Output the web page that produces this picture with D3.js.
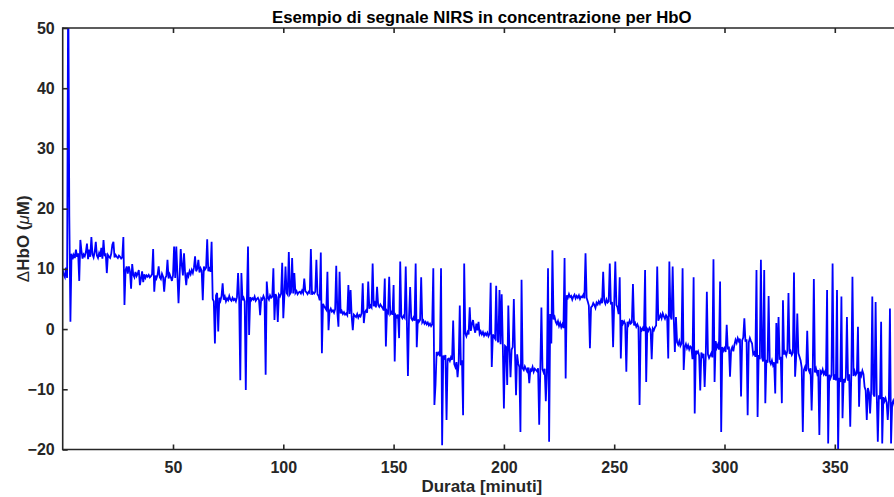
<!DOCTYPE html>
<html>
<head>
<meta charset="utf-8">
<script src="https://cdn.jsdelivr.net/npm/d3@7"></script>
<style>
  html, body { margin: 0; padding: 0; background: #ffffff; overflow: hidden; }
  svg { display: block; }
  text { font-family: "Liberation Sans", Arial, Helvetica, sans-serif; }
</style>
</head>
<body>
<svg id="chart" width="894" height="497"></svg>
<script>
// ---- data (ΔHbO in µM, one sample every 0.5 min) ----
const chartTitle = "Esempio di segnale NIRS in concentrazione per HbO";
const xLabel = "Durata [minuti]";
const sampleStep = 0.5; // minutes between samples
const xTicks = [50, 100, 150, 200, 250, 300, 350];
const yTicks = [-20, -10, 0, 10, 20, 30, 40, 50];

const hboPart1 = [ // 0 - 99.5 min
  9.8, 9.0, 8.6, 10.2, 8.5, 60, 18.7, 1.2, 12.5, 11.6,
  12.3, 11.8, 13.2, 12.0, 12.6, 8.0, 14.8, 13.0, 11.7, 12.4,
  12.1, 12.8, 14.2, 11.6, 13.2, 12.0, 15.3, 12.4, 11.9, 12.8,
  14.5, 12.2, 11.8, 12.6, 12.0, 13.5, 11.7, 14.8, 12.1, 12.6,
  9.3, 12.3, 12.0, 11.8, 12.5, 14.0, 14.5, 11.9, 12.3, 12.0,
  11.8, 12.2, 12.0, 11.7, 11.9, 15.3, 4.0, 9.8, 10.4, 9.2,
  10.4, 9.6, 6.7, 10.8, 9.0, 8.6, 9.5, 8.8, 9.2, 9.8,
  7.3, 8.4, 9.6, 7.8, 9.1, 8.5, 8.9, 8.7, 9.0, 8.6,
  8.8, 9.1, 13.3, 6.2, 8.9, 8.4, 9.0, 10.4, 8.6, 8.3,
  9.2, 8.7, 6.2, 8.5, 8.8, 11.5, 8.4, 9.1, 8.6, 8.0,
  8.9, 13.7, 8.5, 13.7, 9.0, 4.3, 8.8, 13.3, 10.6, 8.9,
  12.6, 9.2, 7.3, 9.4, 8.8, 9.6, 9.1, 9.8, 9.3, 10.2,
  12.1, 9.6, 10.0, 11.5, 9.4, 10.1, 9.7, 4.8, 10.4, 9.9,
  10.2, 14.9, 9.6, 10.3, 9.5, 14.5, 5.0, 4.6, -2.4, 5.6,
  6.0, -0.4, 5.2, 4.7, 5.5, 7.6, 4.9, 5.4, 4.6, 5.1,
  4.8, 5.5, 4.9, 4.7, 5.2, 4.8, 5.0, 4.6, 5.3, 9.3,
  4.9, -8.5, 9.3, 4.8, 5.2, 4.6, -10.1, 5.0, 13.7, -1.0,
  5.3, 4.8, 5.1, 4.9, 5.4, 4.7, 5.0, 5.2, 4.8, 2.3,
  5.1, 4.9, 5.5, 5.0, -7.6, 7.9, 5.3, 4.9, 5.6, 5.2,
  5.4, 10.1, 1.5, 5.8, 5.3, 1.2, 5.7, 5.4, 5.9, 11.0
];
const hboPart2 = [ // 100 - 199.5 min
  1.8, 5.6, 10.4, 6.0, 5.7, 12.8, 5.8, 6.1, 11.8, 5.9,
  9.3, 6.0, 6.3, 5.8, 6.1, 6.2, 5.9, 6.4, 6.0, 8.4,
  6.3, 6.1, 5.8, 6.2, 6.0, 13.3, 5.7, 6.1, 5.9, 6.2,
  11.5, 5.8, 5.5, 4.8, 12.7, -4.0, 4.2, 3.8, 3.5, 3.2,
  9.5, -0.2, 3.0, 3.4, 2.9, 3.1, 2.7, 3.3, 10.5, 2.8,
  0.4, 9.5, 2.6, 3.0, 2.5, 2.8, 2.4, 2.6, 2.3, 7.3,
  2.5, 6.5, 2.1, -0.2, 2.4, 2.2, 2.0, 2.5, 1.9, 2.3,
  2.1, 2.6, 7.6, 1.0, 2.8, 3.1, 2.7, 7.9, 3.4, 3.9,
  3.6, 10.9, 3.8, 4.3, 3.6, 7.0, 4.0, 3.7, 4.1, 3.8,
  3.5, 3.1, 8.4, -2.9, 3.0, 2.7, 8.7, 2.5, 2.8, 2.4,
  7.3, -5.4, 2.3, 2.0, 2.4, -1.5, 11.2, 2.1, 1.8, 2.2,
  1.9, 10.4, 1.6, -7.8, 2.0, 7.0, 1.8, 1.5, 1.9, 1.4,
  10.9, -3.0, 1.6, 1.2, 1.5, 8.6, 1.1, 1.4, 0.9, 1.2,
  0.8, 1.1, 0.6, 0.9, 0.5, 0.8, 10.1, -12.6, -9.3, -3.8,
  -4.2, -3.9, -4.5, 10.1, -19.3, -4.4, -4.8, -4.3, -15.1, -5.0,
  -4.9, -5.3, -4.7, -5.1, 1.4, -5.8, -6.3, -5.5, -8.0, -5.6,
  3.9, -6.0, -5.2, -14.3, 10.9, -0.7, -1.2, -0.5, -0.9, 3.6,
  -0.3, 0.8, 1.5, 0.2, -0.6, 0.9, -0.2, 1.2, -0.8, -0.4,
  -0.9, -0.5, -1.1, -0.7, -1.0, -0.6, -1.2, -0.8, 7.7, -6.3,
  -0.9, -1.3, -1.6, 7.2, -1.8, -2.2, 6.5, -2.5, 5.8, -2.6
];
const hboPart3 = [ // 200 - 299.5 min
  -13.2, -2.8, -3.0, -9.3, 3.9, -3.2, -8.0, -3.4, -3.0, 5.0,
  -3.6, -11.0, -4.2, -5.7, -6.3, -17.1, 8.2, -6.5, -6.8, -6.2,
  -6.6, -7.0, -6.4, -9.0, -6.7, -6.9, -6.3, -7.1, -6.6, -6.8,
  -7.0, -6.5, -15.9, -6.9, 3.6, -6.7, -7.2, -6.6, -12.0, -7.0,
  10.1, -18.7, 2.5, -2.4, 13.1, 1.6, 2.0, 1.2, 0.8, 1.3,
  0.5, 1.0, 0.3, 0.8, 0.2, 11.8, -8.2, 5.6, 5.2, 5.8,
  5.3, 5.5, 4.9, 5.4, 5.7, 5.1, 5.5, 5.2, 5.6, 5.0,
  5.4, 5.3, 5.7, 5.1, 12.6, 5.2, 4.6, 3.9, -3.2, 3.6,
  3.8, 4.3, 4.0, 3.5, 4.4, 4.1, 4.6, 4.2, 4.8, 4.3,
  9.5, 4.7, 4.2, 4.9, 4.4, 4.6, 10.9, 4.1, 4.5, -3.0,
  4.3, 11.2, 4.0, 3.6, 2.5, 8.6, -4.9, 1.5, 0.9, 1.3,
  0.8, -7.1, 1.2, 0.7, 1.4, 0.9, 1.1, 7.5, 0.6, 1.0,
  0.4, 0.8, 0.3, -12.6, 0.1, -0.2, 0.2, -0.3, 9.8, -8.8,
  0.0, -0.3, 0.2, -0.1, -5.0, 0.1, -0.2, 0.3, 0.6, 10.4,
  1.4, 1.9, 2.4, 1.8, 2.6, 2.1, 1.7, 2.3, 2.0, -4.9,
  11.2, 2.2, 1.6, 10.4, 1.8, -3.8, 2.0, -2.2, -2.6, -2.0,
  -2.8, -2.4, 10.1, -6.8, -3.0, -2.5, -3.2, -2.7, -3.4, -2.9,
  -3.1, -5.0, 8.6, -14.0, -3.6, -4.0, -3.7, -4.4, -10.2, -3.9,
  -4.5, -4.1, -9.6, -4.6, 6.2, -4.2, -4.8, -4.4, -4.0, -4.7,
  11.6, -8.8, -2.0, -3.1, -2.6, -3.4, 7.9, -17.1, -3.0, -3.6
];
const hboPart4 = [ // 300 - 379.5 min
  -3.2, -3.8, 0.7, -3.4, -2.9, -7.9, -3.5, -3.0, -3.7, -2.6,
  -1.8, -2.3, -1.5, -2.0, -1.6, -11.2, -1.9, -1.4, 1.8, -2.1,
  -1.7, -14.3, -2.2, -1.5, -2.0, -2.4, -4.2, -3.9, -4.6, 9.8,
  -14.6, -4.3, -5.0, 11.5, -4.7, -5.4, 9.8, -12.3, -5.1, -5.6,
  5.5, -5.3, -5.8, -5.2, -6.0, -5.5, -10.7, 1.0, -5.7, 2.0,
  -5.1, -4.6, -12.3, 4.8, -4.2, -3.8, -4.4, -3.6, 6.0, -4.1,
  -3.7, -4.3, -3.9, 9.4, -7.9, -4.5, 2.6, -4.0, -4.6, -5.2,
  -6.4, -17.1, -6.8, -6.3, -7.0, -0.3, -6.6, -7.1, -6.5, -13.5,
  -6.9, 8.3, -7.2, -6.6, -7.4, -6.8, -17.6, -7.0, -7.3, -6.7,
  -7.5, -7.1, -7.8, 6.5, -19.0, -7.6, -8.2, -7.7, 10.9, -8.4,
  -7.9, -8.5, 6.5, -20.5, -8.1, -8.8, 5.4, -14.8, -8.3, -8.9,
  -8.0, 2.0, -8.6, -7.5, -16.2, -7.2, 8.7, -7.8, -7.0, -7.6,
  -7.3, 0.4, -12.9, -7.1, -7.7, -6.9, -7.5, -9.6, -10.2, -15.1,
  -9.8, -10.5, -14.0, -10.1, 5.4, -10.8, -11.2, 4.5, -10.6, -18.7,
  -11.0, -11.6, 1.2, -19.0, -11.3, -12.0, -11.5, -12.2, -15.1, -11.8,
  3.4, -19.0, -12.4, -11.9, -12.6, -12.1, -12.8, -13.2, -12.5, -13.0
];

const hbo = hboPart1.concat(hboPart2, hboPart3, hboPart4);

// ---- layout ----
const svg = d3.select("#chart");
const plotLeft = 62.7, plotTop = 28, plotBottom = 449.5;
const xMax = 380;
const plotRight = plotLeft + xMax * 2.206;
const axisColor = "#262626";

const x = d3.scaleLinear().domain([0, xMax]).range([plotLeft, plotRight]);
const y = d3.scaleLinear().domain([-20, 50]).range([plotBottom, plotTop]);

svg.append("defs").append("clipPath").attr("id", "plotClip")
  .append("rect").attr("x", plotLeft).attr("y", plotTop)
  .attr("width", plotRight - plotLeft).attr("height", plotBottom - plotTop);

// data line
const line = d3.line()
  .x((d, i) => x(i * sampleStep))
  .y(d => y(d));

svg.append("path")
  .datum(hbo)
  .attr("clip-path", "url(#plotClip)")
  .attr("fill", "none")
  .attr("stroke", "#0000ff")
  .attr("stroke-width", 1.8)
  .attr("stroke-linejoin", "miter")
  .attr("d", line);

// axes
function styleAxis(g) {
  g.select(".domain").attr("stroke", axisColor).attr("stroke-width", 1.6);
  g.selectAll(".tick line").attr("stroke", axisColor).attr("stroke-width", 1.6);
  g.selectAll(".tick text")
    .attr("fill", axisColor)
    .style("font-size", "16px")
    .style("font-weight", "bold");
}

svg.append("g")
  .attr("transform", `translate(0,${plotBottom})`)
  .call(d3.axisBottom(x).tickValues(xTicks).tickFormat(d3.format("d"))
    .tickSizeInner(-5).tickSizeOuter(0).tickPadding(12))
  .call(styleAxis)
  .call(g => g.select(".domain").attr("d", `M${plotLeft},0H${plotRight}`));

svg.append("g")
  .attr("transform", `translate(0,${plotTop})`)
  .call(d3.axisTop(x).tickValues(xTicks).tickFormat("")
    .tickSizeInner(-5).tickSizeOuter(0))
  .call(styleAxis)
  .call(g => g.select(".domain").attr("d", `M${plotLeft},0H${plotRight}`));

svg.append("g")
  .attr("transform", `translate(${plotLeft},0)`)
  .call(d3.axisLeft(y).tickValues(yTicks).tickFormat(d3.format("d"))
    .tickSizeInner(-5).tickSizeOuter(0).tickPadding(8))
  .call(styleAxis)
  .call(g => g.select(".domain").attr("d", `M0,${plotTop - 0.8}V${plotBottom + 0.8}`));

// title
svg.append("text")
  .attr("x", (plotLeft + plotRight) / 2)
  .attr("y", 23)
  .attr("text-anchor", "middle")
  .attr("fill", "#000")
  .style("font-size", "16.8px")
  .style("font-weight", "bold")
  .text(chartTitle);

// x label
svg.append("text")
  .attr("x", (plotLeft + plotRight) / 2)
  .attr("y", 492)
  .attr("text-anchor", "middle")
  .attr("fill", axisColor)
  .style("font-size", "17px")
  .style("font-weight", "bold")
  .text(xLabel);

// y label  ΔHbO (μM)
const yl = svg.append("text")
  .attr("transform", `translate(29,${(plotTop + plotBottom) / 2}) rotate(-90)`)
  .attr("text-anchor", "middle")
  .attr("fill", axisColor)
  .style("font-size", "17px")
  .style("font-weight", "bold");
yl.append("tspan").style("font-weight", "normal").text("\u0394");
yl.append("tspan").text("HbO (");
yl.append("tspan").style("font-style", "italic").style("font-weight", "normal").text("\u03bc");
yl.append("tspan").text("M)");
</script>
</body>
</html>
